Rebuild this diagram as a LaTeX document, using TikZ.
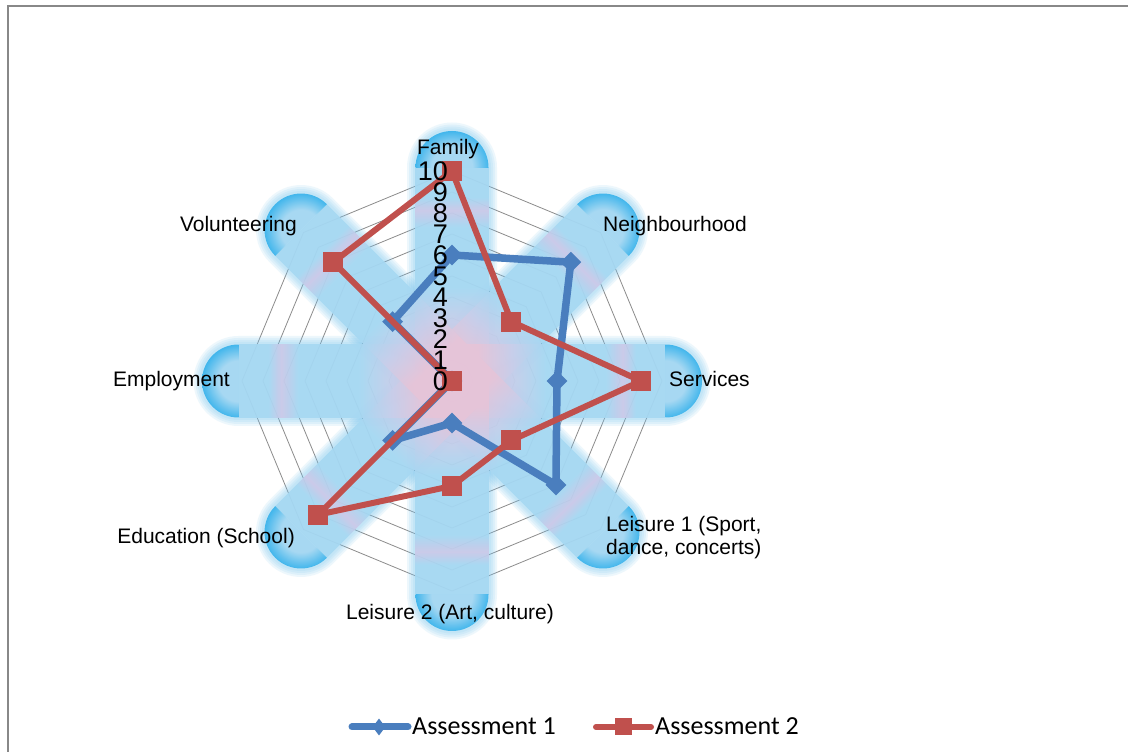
\documentclass[tikz,border=0pt]{standalone}
\usepackage{fontspec}
\setmainfont{Liberation Sans}
\newfontfamily\legfont{Carlito}
\usetikzlibrary{shapes.geometric,calc}

\definecolor{armpink}{RGB}{230,196,216}
\definecolor{armmid}{RGB}{200,206,234}
\definecolor{armblue}{RGB}{166,216,242}
\definecolor{armlav}{RGB}{204,200,232}
\definecolor{armcyan}{RGB}{60,180,236}
\definecolor{halocol}{RGB}{120,196,238}
\definecolor{serA}{RGB}{74,126,190}
\definecolor{serB}{RGB}{192,80,77}
\definecolor{gridc}{RGB}{140,140,140}
\definecolor{framec}{RGB}{136,136,136}

\pgfdeclarehorizontalshading{armshade}{100bp}{color(0bp)=(armpink); color(25bp)=(armpink); color(31bp)=(armpink); color(39bp)=(armmid); color(47bp)=(armblue); color(61bp)=(armblue); color(65bp)=(armlav); color(68bp)=(armblue); color(75bp)=(armblue); color(100bp)=(armblue)}
\pgfdeclareradialshading{capshade}{\pgfpoint{0bp}{0bp}}{color(0bp)=(armblue); color(14bp)=(armblue); color(25bp)=(armcyan); color(50bp)=(armcyan)}

\begin{document}
\begin{tikzpicture}[x=1pt,y=1pt,
  gridline/.style={draw=gridc,line width=0.8pt},
  lineA/.style={draw=serA,line width=7.5pt,line join=round},
  lineB/.style={draw=serB,line width=6pt,line join=round},
  markA/.style={diamond,fill=serA,inner sep=0pt,minimum size=21pt},
  markB/.style={rectangle,fill=serB,inner sep=0pt,minimum size=20pt},
  numlab/.style={font=\fontsize{27}{27}\selectfont,inner sep=0pt,anchor=east},
  catlab/.style={font=\fontsize{21}{23.5}\selectfont,inner sep=0pt},
  leglab/.style={font=\legfont\fontsize{26}{26}\selectfont,inner sep=0pt,anchor=base west},
  framel/.style={draw=framec,line width=2.2pt}]
\useasboundingbox (0,0) rectangle (1128,752);
\fill[white] (0,0) rectangle (1128,752);
\draw[framel] (8,-3) -- (8,746) -- (1131,746);

% grid web
\begin{scope}[shift={(452,371)}]
  \coordinate (C) at (0,0);
  \foreach \k in {1,...,10}{
    \draw[gridline] (90:{\k*21}) -- (45:{\k*21}) -- (0:{\k*21}) -- (-45:{\k*21}) -- (-90:{\k*21}) -- (-135:{\k*21}) -- (180:{\k*21}) -- (135:{\k*21}) -- cycle;
  }
\end{scope}

% arm halos (soft edges)
\foreach \a in {90,45,0,-45,-90,-135,180,135}{
  \begin{scope}[transform canvas={shift={(452pt,371pt)},rotate=\a}]
    \foreach \w in {45,43,41,39}{
      \fill[halocol,opacity=0.13] (0,-\w) -- (213.5,-\w) arc[start angle=-90,end angle=90,radius=\w] -- (0,\w) -- cycle;
    }
  \end{scope}
}
% arm bodies
\foreach \a in {90,45,0,-45,-90,-135,180,135}{
  \begin{scope}[transform canvas={shift={(452pt,371pt)},rotate=\a}]
    \shade[shading=armshade,fill opacity=0.92] (0,-36.5) -- (213.5,-36.5) -- (213.5,36.5) -- (0,36.5) -- cycle;
    \begin{scope}
      \clip (213.5,-40) rectangle (260,40);
      \shade[shading=capshade,fill opacity=0.95] (213.5,0) circle[radius=36.5];
    \end{scope}
  \end{scope}
}

\begin{scope}[shift={(452,371)}]
  % series A
  \foreach \a/\v/\n in {90/6/1,45/8/2,0/5/3,-45/7/4,-90/2/5,-135/4/6,180/0/7,135/4/8}
    \coordinate (a\n) at (\a:{\v*21});
  \draw[lineA] (a1) -- (a2) -- (a3) -- (a4) -- (a5) -- (a6) -- (a7) -- (a8) -- cycle;
  \foreach \n in {1,...,8} \node[markA] (ma\n) at (a\n) {};
  % series B
  \foreach \a/\v/\n in {90/10/1,45/4/2,0/9/3,-45/4/4,-90/5/5,-135/9/6,180/0/7,135/8/8}
    \coordinate (b\n) at (\a:{\v*21});
  \draw[lineB] (b1) -- (b2) -- (b3) -- (b4) -- (b5) -- (b6) -- (b7) -- (b8) -- cycle;
  \foreach \n in {1,...,8} \node[markB] (mb\n) at (b\n) {};
  % scale numbers
  \foreach \k in {0,...,10} \node[numlab] (n\k) at (-4,{\k*21}) {\k};
  % category labels
  \node[catlab,anchor=base] (lfam) at (-4,226) {Family};
  \node[catlab,anchor=base west] (lnei) at (151,149) {Neighbourhood};
  \node[catlab,anchor=base west] (lser) at (217,-6) {Services};
  \node[catlab,anchor=base west,align=left] (lle1) at (154,-174) {Leisure 1 (Sport,\\dance, concerts)};
  \node[catlab,anchor=base] (lle2) at (-2,-239) {Leisure 2 (Art, culture)};
  \node[catlab,anchor=base east] (ledu) at (-157,-163) {Education (School)};
  \node[catlab,anchor=base east] (lemp) at (-222,-6) {Employment};
  \node[catlab,anchor=base east] (lvol) at (-155,149) {Volunteering};
\end{scope}

% legend
\coordinate (la0) at (352,25);
\coordinate (la1) at (408,25);
\draw[draw=serA,line width=7pt,line cap=round] (la0) -- (la1);
\node[diamond,fill=serA,inner sep=0pt,minimum width=13pt,minimum height=17pt] (lma) at (379,25) {};
\node[leglab] (lta) at (412,17) {Assessment 1};
\coordinate (lb0) at (596,25);
\coordinate (lb1) at (651,25);
\draw[draw=serB,line width=6pt,line cap=round] (lb0) -- (lb1);
\node[rectangle,fill=serB,inner sep=0pt,minimum size=17pt] (lmb) at (623,25) {};
\node[leglab] (ltb) at (655,17) {Assessment 2};
\end{tikzpicture}
\end{document}
